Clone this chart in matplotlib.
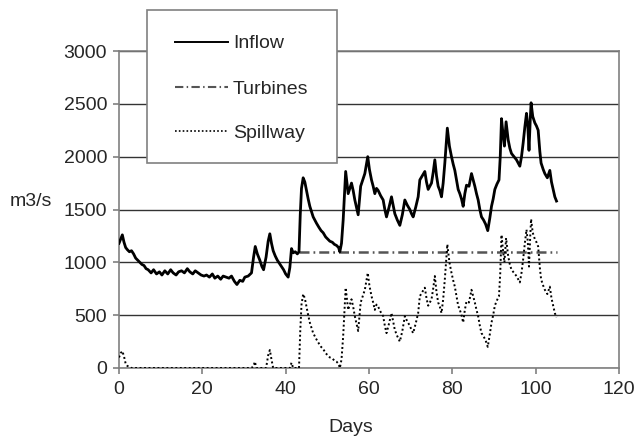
import matplotlib
matplotlib.use("Agg")
import matplotlib.pyplot as plt
from matplotlib.lines import Line2D
from matplotlib.patches import Rectangle

plt.rcParams['font.family'] = ['Liberation Sans', 'DejaVu Sans']

# ---------------- data ----------------
inflow_days = [0.0, 0.4, 0.8, 1.2, 1.6, 2.0, 2.5, 3.0, 3.5, 4.0, 4.5, 5.0, 5.5, 6.0, 6.5, 7.0, 7.7, 8.3,
               9.0, 9.7, 10.3, 11.0, 11.7, 12.4, 13.0, 13.7, 14.3, 15.0, 15.7, 16.4, 17.0, 17.7, 18.3,
               19.0, 19.7, 20.4, 21.0, 21.7, 22.4, 23.0, 23.7, 24.4, 25.0, 25.7, 26.4, 27.0, 27.7, 28.3,
               29.0, 29.7, 30.2, 31.0, 31.8, 32.3, 32.7, 33.2, 33.8, 34.3, 34.7, 35.3, 35.8, 36.2, 36.6,
               37.0, 37.5, 38.0, 38.5, 39.0, 39.5, 40.0, 40.6, 41.0, 41.4, 41.8, 42.3, 42.8, 43.2, 43.5,
               43.8, 44.2, 44.6, 45.0, 45.4, 45.8, 46.2, 46.6, 47.0, 47.4, 48.0, 48.5, 49.0, 49.6, 50.1,
               50.6, 51.2, 51.7, 52.2, 52.7, 53.0, 53.4, 53.8, 54.4, 55.0, 55.4, 55.8, 56.2, 56.6, 57.0,
               57.4, 58.0, 58.5, 59.0, 59.7, 60.1, 60.6, 61.0, 61.4, 61.8, 62.2, 62.8, 63.4, 63.8, 64.2,
               64.8, 65.4, 65.8, 66.2, 66.8, 67.4, 68.0, 68.6, 69.2, 69.8, 70.2, 70.6, 71.2, 71.8, 72.2,
               72.8, 73.4, 73.8, 74.2, 74.6, 75.0, 75.4, 75.8, 76.2, 76.6, 77.0, 77.4, 77.8, 78.2, 78.8,
               79.3, 79.8, 80.2, 80.6, 81.0, 81.4, 81.8, 82.2, 82.6, 83.0, 83.4, 84.0, 84.6, 85.0, 85.4,
               85.8, 86.2, 86.6, 87.0, 87.5, 88.0, 88.5, 89.0, 89.4, 89.8, 90.2, 90.7, 91.2, 91.5, 91.8,
               92.2, 92.5, 92.9, 93.4, 93.8, 94.2, 94.8, 95.4, 95.8, 96.2, 96.6, 97.0, 97.4, 97.8, 98.1,
               98.4, 98.7, 98.9, 99.3, 99.8, 100.2, 100.6, 101.0, 101.3, 101.8, 102.2, 102.8, 103.4,
               103.8, 104.2, 104.6, 105.0]
inflow = [1180, 1220, 1260, 1190, 1140, 1120, 1100, 1110, 1080, 1040, 1020, 1000, 980, 970, 940, 930, 900, 930,
          890, 910, 880, 920, 890, 930, 900, 880, 910, 920, 900, 940, 910, 890, 920,
          900, 880, 870, 880, 860, 890, 850, 870, 840, 870, 860, 850, 870, 820, 790,
          830, 820, 860, 870, 900, 1050, 1150, 1080, 1020, 960, 930, 1050, 1200, 1270, 1180,
          1110, 1060, 1020, 990, 960, 930, 890, 860, 950, 1130, 1090, 1100, 1080, 1100, 1450,
          1700, 1800, 1760, 1680, 1600, 1530, 1480, 1430, 1400, 1370, 1330, 1300, 1280, 1240, 1220,
          1200, 1190, 1170, 1160, 1140, 1100, 1180, 1400, 1860, 1650, 1700, 1750, 1680, 1590, 1520,
          1450, 1720, 1780, 1840, 2000, 1880, 1780, 1720, 1650, 1700, 1680, 1630, 1590, 1500, 1430,
          1520, 1620, 1540, 1460, 1400, 1350, 1450, 1590, 1540, 1500, 1460, 1430, 1520, 1620, 1780,
          1820, 1860, 1760, 1690, 1720, 1750, 1850, 1970, 1820, 1720, 1680, 1620, 1750, 1940, 2270,
          2100, 2000, 1930, 1870, 1780, 1690, 1650, 1600, 1530, 1650, 1730, 1720, 1840, 1780, 1720,
          1650, 1590, 1500, 1430, 1400, 1360, 1300, 1420, 1530, 1600, 1690, 1740, 1780, 2000, 2360,
          2200, 2100, 2330, 2160, 2080, 2030, 2000, 1970, 1940, 1910, 2000, 2130, 2280, 2410, 2300,
          2060, 2350, 2510, 2380, 2320, 2290, 2250, 2050, 1940, 1880, 1840, 1800, 1870,
          1760, 1690, 1620, 1580]

turbine_days = [43.2, 105.0]
turbines = [1100, 1100]

spill_days = [0.0, 0.4, 0.8, 1.2, 1.6, 2.0, 2.5, 3.0, 31.8, 32.3, 32.6, 33.0, 35.3, 35.8, 36.2, 36.6, 37.0,
              41.0, 41.4, 41.8, 43.2, 43.5, 43.8, 44.2, 44.6, 45.0, 45.4, 45.8, 46.2, 46.6, 47.0, 47.4,
              48.0, 48.5, 49.0, 49.6, 50.1, 50.6, 51.2, 51.7, 52.2, 52.7, 53.0, 53.4, 53.8, 54.4, 55.0,
              55.4, 55.8, 56.2, 56.6, 57.0, 57.4, 58.0, 58.5, 59.0, 59.7, 60.1, 60.6, 61.0, 61.4, 61.8,
              62.2, 62.8, 63.4, 63.8, 64.2, 64.8, 65.4, 65.8, 66.2, 66.8, 67.4, 68.0, 68.6, 69.2, 69.8,
              70.2, 70.6, 71.2, 71.8, 72.2, 72.8, 73.4, 73.8, 74.2, 74.6, 75.0, 75.4, 75.8, 76.2, 76.6,
              77.0, 77.4, 77.8, 78.2, 78.8, 79.3, 79.8, 80.2, 80.6, 81.0, 81.4, 81.8, 82.2, 82.6, 83.0,
              83.4, 84.0, 84.6, 85.0, 85.4, 85.8, 86.2, 86.6, 87.0, 87.5, 88.0, 88.5, 89.0, 89.4, 89.8,
              90.2, 90.7, 91.2, 91.5, 91.8, 92.2, 92.5, 92.9, 93.4, 93.8, 94.2, 94.8, 95.4, 95.8, 96.2,
              96.6, 97.0, 97.4, 97.8, 98.1, 98.4, 98.7, 98.9, 99.3, 99.8, 100.2, 100.6, 101.0, 101.3,
              101.8, 102.2, 102.8, 103.4, 103.8, 104.2, 104.6, 105.0]
spillway = [100, 140, 160, 110, 40, 20, 10, 0, 0, 20, 60, 0, 0, 120, 170, 80, 0,
            0, 50, 0, 0, 350, 600, 700, 660, 580, 500, 430, 380, 330, 300, 270,
            230, 200, 180, 140, 120, 100, 90, 70, 60, 40, 0, 80, 300, 760, 550,
            600, 650, 580, 490, 420, 350, 620, 680, 740, 900, 780, 680, 620, 550, 600,
            580, 530, 490, 400, 330, 420, 520, 440, 360, 300, 250, 350, 490, 440, 400,
            360, 330, 420, 520, 680, 720, 760, 660, 590, 620, 650, 750, 870, 720, 620,
            580, 520, 650, 840, 1170, 1000, 900, 830, 770, 680, 590, 550, 500, 430, 550,
            630, 620, 740, 680, 620, 550, 490, 400, 330, 300, 260, 200, 320, 430, 500,
            590, 640, 680, 900, 1260, 1100, 1000, 1230, 1060, 980, 930, 900, 870, 840, 810,
            900, 1030, 1180, 1310, 1200, 960, 1250, 1410, 1280, 1220, 1190, 1150, 950, 840,
            780, 740, 700, 770, 660, 590, 520, 480]

x_ticks = [0, 20, 40, 60, 80, 100, 120]
y_ticks = [0, 500, 1000, 1500, 2000, 2500, 3000]
series_labels = ["Inflow", "Turbines", "Spillway"]

# ---------------- figure ----------------
W, H = 635, 437
fig = plt.figure(figsize=(W / 100, H / 100), dpi=100)
fig.patch.set_facecolor('white')
ax = fig.add_axes([119 / W, 1 - 368 / H, 500 / W, 317 / H])

txt_col = '#262626'
fs = 14
TURB_DASH = [4, 1.6, 0.7, 1.6]
SPILL_LS = (0, (1, 1.3))

ax.plot(inflow_days, inflow, color='black', lw=2.0, zorder=4)
l_t, = ax.plot(turbine_days, turbines, color='#555555', lw=1.8, zorder=3)
l_t.set_dashes(TURB_DASH)
ax.plot(spill_days, spillway, color='black', lw=1.4, linestyle=SPILL_LS, zorder=3)

ax.set_xlim(0, 120)
ax.set_ylim(0, 3000)
ax.set_xticks(x_ticks)
ax.set_yticks(y_ticks)
ax.yaxis.grid(True, color='#333333', lw=1.0)
ax.set_axisbelow(True)
for s in ax.spines.values():
    s.set_color('#808080')
    s.set_linewidth(1.2)
ax.tick_params(axis='both', colors='#808080', length=4.5, width=1.2,
               labelcolor=txt_col, labelsize=fs)
ax.tick_params(axis='y', pad=4)
ax.tick_params(axis='x', pad=5)

fig.text(10 / W, 1 - 206 / H, "m3/s", fontsize=fs, color=txt_col, ha='left', va='baseline')
fig.text(351 / W, 1 - 432 / H, "Days", fontsize=fs, color=txt_col, ha='center', va='baseline')

# legend drawn in figure pixel coordinates (box, sample lines, labels)
def fx(px):
    return px / W

def fy(py):
    return 1 - py / H

box = Rectangle((fx(147), fy(163)), fx(337) - fx(147), fy(10) - fy(163),
                transform=fig.transFigure, facecolor='white', edgecolor='#808080',
                lw=1.2, zorder=10)
fig.add_artist(box)
row_y = [42, 87, 131]
h_in = Line2D([fx(175), fx(228)], [fy(row_y[0])] * 2, transform=fig.transFigure,
              color='black', lw=1.4, zorder=11)
h_tu = Line2D([fx(175), fx(228)], [fy(row_y[1])] * 2, transform=fig.transFigure,
              color='#555555', lw=1.5, zorder=11)
h_tu.set_dashes(TURB_DASH)
h_sp = Line2D([fx(175), fx(228)], [fy(row_y[2])] * 2, transform=fig.transFigure,
              color='black', lw=1.2, linestyle=SPILL_LS, zorder=11)
for h in (h_in, h_tu, h_sp):
    fig.add_artist(h)
for lab, yy in zip(series_labels, row_y):
    fig.text(fx(233), fy(yy), lab, fontsize=fs, color=txt_col, ha='left',
             va='center_baseline', zorder=12)

fig.savefig("out.png", dpi=100, facecolor='white')
